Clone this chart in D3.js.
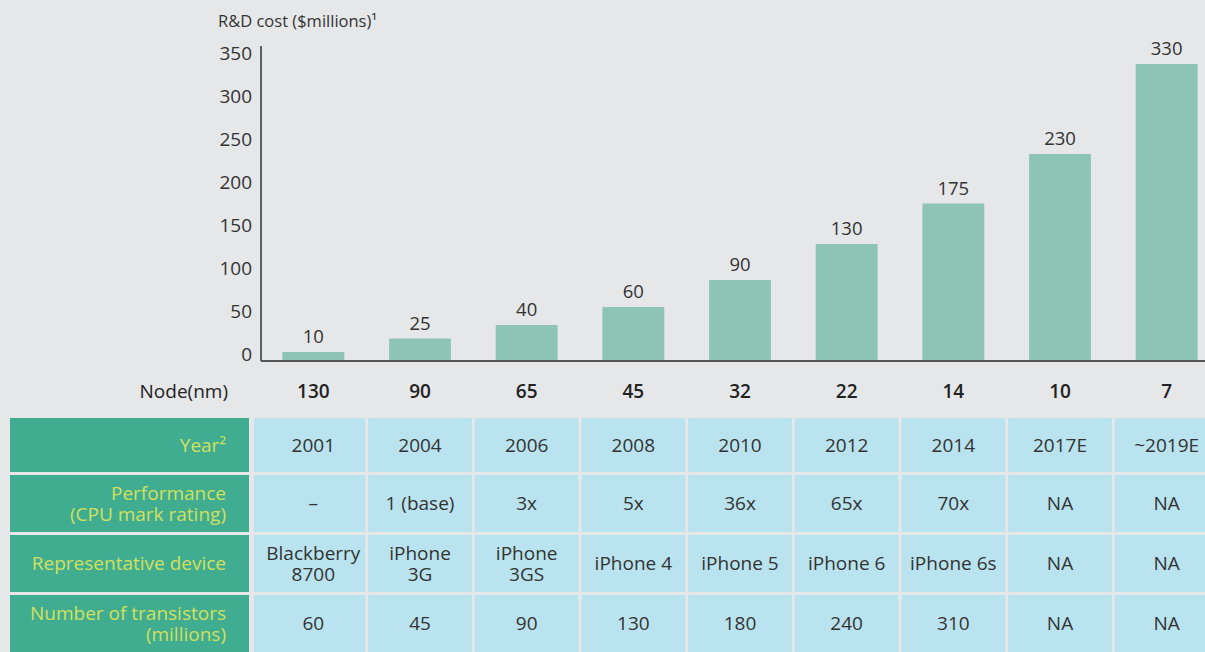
<!DOCTYPE html>
<html>
<head>
<meta charset="utf-8">
<script src="https://cdn.jsdelivr.net/npm/d3@7"></script>
<style>
  body { margin: 0; background: #e6e7e9; }
  svg { display: block; }
</style>
</head>
<body>
<script>
// chart data
const nodes = ["130", "90", "65", "45", "32", "22", "14", "10", "7"];
const rdCost = [10, 25, 40, 60, 90, 130, 175, 230, 330];
const yTicks = [0, 50, 100, 150, 200, 250, 300, 350];

// table rows
const rowLabels = [["Year²"], ["Performance", "(CPU mark rating)"], ["Representative device"], ["Number of transistors", "(millions)"]];
const years = ["2001", "2004", "2006", "2008", "2010", "2012", "2014", "2017E", "~2019E"];
const performance = ["–", "1 (base)", "3x", "5x", "36x", "65x", "70x", "NA", "NA"];
const devices = [["Blackberry", "8700"], ["iPhone", "3G"], ["iPhone", "3GS"], ["iPhone 4"], ["iPhone 5"], ["iPhone 6"], ["iPhone 6s"], ["NA"], ["NA"]];
const transistors = ["60", "45", "90", "130", "180", "240", "310", "NA", "NA"];

const width = 1205, height = 652;
const font = "'Open Sans', sans-serif";

const svg = d3.select("body").append("svg")
    .attr("width", width)
    .attr("height", height)
    .attr("font-family", font);

svg.append("rect").attr("width", width).attr("height", height).attr("fill", "#e6e7e9");

const x = d3.scaleBand()
    .domain(nodes)
    .range([260, 1220])
    .paddingInner(0.42)
    .paddingOuter(0.21);

const y = d3.scaleLinear()
    .domain([0, 350])
    .range([361, 46]);

// axis title
svg.append("text")
    .attr("x", 218)
    .attr("y", 27)
    .attr("font-size", 16.5)
    .attr("fill", "#333")
    .text("R&D cost ($millions)¹");

// y labels (no tick marks in original)
svg.append("g")
    .selectAll("text")
    .data(yTicks)
    .join("text")
    .attr("x", 252)
    .attr("y", d => y(d) + d * 0.04)
    .attr("text-anchor", "end")
    .attr("font-size", 19)
    .attr("fill", "#333")
    .text(d => d);

// bars
svg.append("g")
    .selectAll("rect")
    .data(rdCost)
    .join("rect")
    .attr("x", (d, i) => x(nodes[i]))
    .attr("width", x.bandwidth())
    .attr("y", d => y(d))
    .attr("height", d => y(0) - y(d))
    .attr("fill", "#8dc4b3");

svg.append("g")
    .selectAll("text")
    .data(rdCost)
    .join("text")
    .attr("x", (d, i) => x(nodes[i]) + x.bandwidth() / 2)
    .attr("y", d => y(d) - 9)
    .attr("text-anchor", "middle")
    .attr("font-size", 18.5)
    .attr("fill", "#333")
    .text(d => d);

// axis lines
svg.append("line")
    .attr("x1", 261).attr("x2", 261)
    .attr("y1", y(350)).attr("y2", y(0))
    .attr("stroke", "#333").attr("stroke-width", 1.5);
svg.append("line")
    .attr("x1", 261).attr("x2", width)
    .attr("y1", y(0)).attr("y2", y(0))
    .attr("stroke", "#555").attr("stroke-width", 2);

// node row
svg.append("text")
    .attr("x", 228)
    .attr("y", 398)
    .attr("text-anchor", "end")
    .attr("font-size", 19)
    .attr("fill", "#222")
    .text("Node(nm)");

svg.append("g")
    .selectAll("text")
    .data(nodes)
    .join("text")
    .attr("x", d => x(d) + x.bandwidth() / 2)
    .attr("y", 398)
    .attr("text-anchor", "middle")
    .attr("font-size", 19)
    .attr("font-weight", 600)
    .attr("fill", "#222")
    .text(d => d);

// table
const rowTops = [418, 475, 535, 595];
const rowBottoms = [472, 532, 592, 652];
const tableRows = [years, performance, devices, transistors];
const step = x.step();
const gap = 3;

// one text element per cell, extra lines as tspans
function multiline(sel, lines, cx, cy, anchor, lh, fill) {
    const n = lines.length;
    const t = sel.append("text")
        .attr("text-anchor", anchor)
        .attr("font-size", 19)
        .attr("fill", fill);
    lines.forEach((ln, j) => {
        t.append("tspan")
            .attr("x", cx)
            .attr("y", cy + (j - (n - 1) / 2) * lh)
            .attr("dy", "0.35em")
            .text(ln);
    });
}

tableRows.forEach((row, r) => {
    const g = svg.append("g");
    const top = rowTops[r], bot = rowBottoms[r], cy = (top + bot) / 2;
    g.append("rect")
        .attr("x", 10).attr("y", top)
        .attr("width", 239).attr("height", bot - top)
        .attr("fill", "#40ad91");
    multiline(g, rowLabels[r], 226, cy, "end", 21, "#d3e05c");

    row.forEach((val, i) => {
        const c = x(nodes[i]) + x.bandwidth() / 2;
        const left = i === 0 ? 254 : c - step / 2 + gap / 2;
        const right = c + step / 2 - gap / 2;
        g.append("rect")
            .attr("x", left).attr("y", top)
            .attr("width", Math.min(right, width) - left).attr("height", bot - top)
            .attr("fill", "#b9e3ee");
        multiline(g, Array.isArray(val) ? val : [val], c, cy, "middle", 21, "#333");
    });
});
</script>
</body>
</html>
